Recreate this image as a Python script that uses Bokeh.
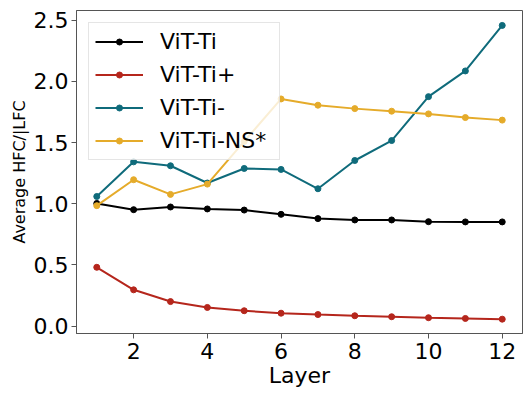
from bokeh.plotting import figure
from bokeh.models import FixedTicker, PrintfTickFormatter, Range1d, Legend, LegendItem
from bokeh.embed import file_html
from bokeh.resources import INLINE

layers = [1, 2, 3, 4, 5, 6, 7, 8, 9, 10, 11, 12]
vit_ti = [1.003, 0.952, 0.974, 0.958, 0.949, 0.914, 0.879, 0.868, 0.868, 0.854, 0.852, 0.852]
vit_ti_plus = [0.481, 0.297, 0.201, 0.153, 0.126, 0.106, 0.095, 0.085, 0.077, 0.069, 0.063, 0.057]
vit_ti_minus = [1.060, 1.343, 1.311, 1.170, 1.289, 1.281, 1.123, 1.354, 1.517, 1.876, 2.086, 2.458]
vit_ti_ns = [0.985, 1.197, 1.077, 1.161, 1.510, 1.857, 1.806, 1.778, 1.757, 1.735, 1.705, 1.684]

names = ["ViT-Ti", "ViT-Ti+", "ViT-Ti-", "ViT-Ti-NS*"]
colors = ["#000000", "#b5261c", "#0f6b7b", "#e5ab2a"]
series = [vit_ti, vit_ti_plus, vit_ti_minus, vit_ti_ns]

x_ticks = [2, 4, 6, 8, 10, 12]
y_ticks = [0.0, 0.5, 1.0, 1.5, 2.0, 2.5]

FONT = "DejaVu Sans"

p = figure(width=532, height=399, output_backend="svg", toolbar_location=None,
           x_range=Range1d(0.45, 12.55), y_range=Range1d(-0.06, 2.58),
           min_border_left=76, min_border_right=10, min_border_top=10, min_border_bottom=66)

p.xgrid.visible = False
p.ygrid.visible = False
p.outline_line_color = "#555555"
p.outline_line_width = 1

items = []
for name, col, ys in zip(names, colors, series):
    l = p.line(layers, ys, line_color=col, line_width=2)
    s = p.scatter(layers, ys, marker="circle", size=6, fill_color=col, line_color=col)
    items.append(LegendItem(label=name, renderers=[l, s]))

legend = Legend(items=items, location="top_left")
legend.label_text_font = FONT
legend.label_text_font_size = "22px"
legend.label_text_color = "#000000"
legend.glyph_width = 48
legend.glyph_height = 15
legend.label_height = 22
legend.label_width = 113
legend.label_standoff = 17
legend.spacing = 8
legend.padding = 6
legend.margin = 12
legend.border_line_color = "#cccccc"
legend.border_line_width = 1
legend.background_fill_alpha = 0.8
p.add_layout(legend)

for ax in [p.xaxis[0], p.yaxis[0]]:
    ax.axis_line_color = "#555555"
    ax.major_tick_line_color = "#555555"
    ax.major_tick_out = 5
    ax.major_tick_in = 0
    ax.minor_tick_line_color = None
    ax.major_label_text_font = FONT
    ax.major_label_text_font_size = "22px"
    ax.major_label_text_color = "#000000"
    ax.axis_label_text_font = FONT
    ax.axis_label_text_font_style = "normal"
    ax.axis_label_text_color = "#000000"

p.xaxis.ticker = FixedTicker(ticks=x_ticks)
p.yaxis.ticker = FixedTicker(ticks=y_ticks)
p.yaxis.formatter = PrintfTickFormatter(format="%.1f")
p.xaxis.axis_label = "Layer"
p.yaxis.axis_label = "Average HFC/|LFC"
p.xaxis.axis_label_text_font_size = "22px"
p.yaxis.axis_label_text_font_size = "16px"
p.xaxis.major_label_standoff = 4
p.yaxis.major_label_standoff = 3
p.xaxis.axis_label_standoff = 1
p.yaxis.axis_label_standoff = 2

open("out.html", "w").write(file_html(p, INLINE))
